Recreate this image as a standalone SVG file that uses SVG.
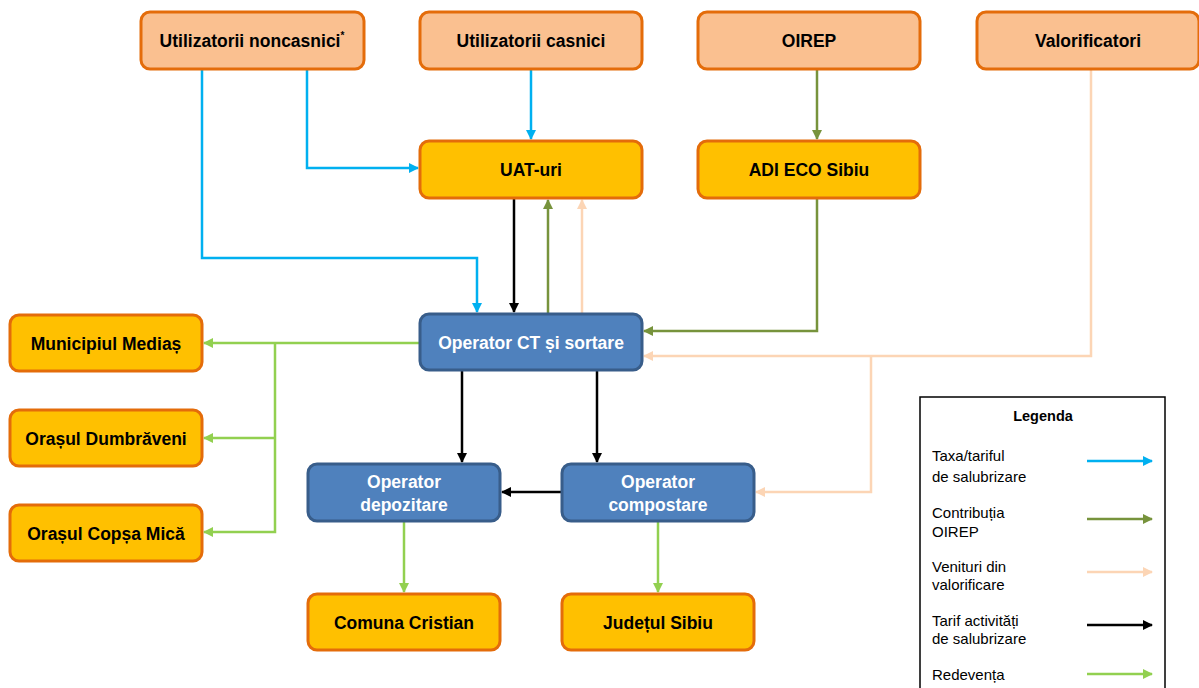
<svg xmlns="http://www.w3.org/2000/svg" width="1199" height="688" viewBox="0 0 1199 688">
<style>
.top{fill:#FAC090;stroke:#E46C0A;stroke-width:3}
.org{fill:#FFC000;stroke:#E46C0A;stroke-width:3}
.blu{fill:#4F81BD;stroke:#385D8A;stroke-width:3}
text{font-family:"Liberation Sans",Arial,sans-serif}
.t{font-size:17.5px;font-weight:bold;fill:#000;text-anchor:middle}
.tw{font-size:17.5px;font-weight:bold;fill:#fff;text-anchor:middle}
.lg{font-size:15px;fill:#000}
.c{fill:none;stroke-width:2.5}
.b{stroke:#00B0F0}.g{stroke:#77933C}.p{stroke:#FCD5B5}.k{stroke:#000}.l{stroke:#92D050}
</style>
<defs>
<marker id="mb" viewBox="0 0 10 10" refX="9" refY="5" markerWidth="4" markerHeight="4" orient="auto" markerUnits="strokeWidth"><path d="M0,0L10,5L0,10z" fill="#00B0F0"/></marker>
<marker id="mg" viewBox="0 0 10 10" refX="9" refY="5" markerWidth="4" markerHeight="4" orient="auto" markerUnits="strokeWidth"><path d="M0,0L10,5L0,10z" fill="#77933C"/></marker>
<marker id="mp" viewBox="0 0 10 10" refX="9" refY="5" markerWidth="4" markerHeight="4" orient="auto" markerUnits="strokeWidth"><path d="M0,0L10,5L0,10z" fill="#FCD5B5"/></marker>
<marker id="mk" viewBox="0 0 10 10" refX="9" refY="5" markerWidth="4" markerHeight="4" orient="auto" markerUnits="strokeWidth"><path d="M0,0L10,5L0,10z" fill="#000"/></marker>
<marker id="ml" viewBox="0 0 10 10" refX="9" refY="5" markerWidth="4" markerHeight="4" orient="auto" markerUnits="strokeWidth"><path d="M0,0L10,5L0,10z" fill="#92D050"/></marker>
</defs>
<rect width="1199" height="688" fill="#fff"/>
<g id="connectors">
<path class="c b" d="M202,69V258H477V312" marker-end="url(#mb)"/>
<path class="c b" d="M307,69V168H418" marker-end="url(#mb)"/>
<path class="c b" d="M531,69V139" marker-end="url(#mb)"/>
<path class="c g" d="M817,69V139" marker-end="url(#mg)"/>
<path class="c k" d="M514,198V312" marker-end="url(#mk)"/>
<path class="c g" d="M548,314V200" marker-end="url(#mg)"/>
<path class="c p" d="M582,314V200" marker-end="url(#mp)"/>
<path class="c g" d="M817,198V331H644" marker-end="url(#mg)"/>
<path class="c p" d="M1091,69V356H644" marker-end="url(#mp)"/>
<path class="c p" d="M871,356V492H756" marker-end="url(#mp)"/>
<path class="c k" d="M462,370V462" marker-end="url(#mk)"/>
<path class="c k" d="M597,370V462" marker-end="url(#mk)"/>
<path class="c k" d="M562,492H502" marker-end="url(#mk)"/>
<path class="c l" d="M420,343H204" marker-end="url(#ml)"/>
<path class="c l" d="M275,343V532H204" marker-end="url(#ml)"/>
<path class="c l" d="M275,438H204" marker-end="url(#ml)"/>
<path class="c l" d="M404,521V592" marker-end="url(#ml)"/>
<path class="c l" d="M658,521V592" marker-end="url(#ml)"/>
</g>
<g id="n-noncasnici"><rect class="top" x="141" y="12" width="223" height="57" rx="9"/><text class="t" x="252" y="47">Utilizatorii noncasnici<tspan font-size="10" dy="-8">*</tspan></text></g>
<g id="n-casnici"><rect class="top" x="420" y="12" width="222" height="57" rx="9"/><text class="t" x="531" y="47">Utilizatorii casnici</text></g>
<g id="n-oirep"><rect class="top" x="698" y="12" width="222" height="57" rx="9"/><text class="t" x="809" y="47">OIREP</text></g>
<g id="n-valorificatori"><rect class="top" x="977" y="12" width="222" height="57" rx="9"/><text class="t" x="1088" y="47">Valorificatori</text></g>
<g id="n-uat"><rect class="org" x="420" y="141" width="222" height="57" rx="9"/><text class="t" x="531" y="176">UAT-uri</text></g>
<g id="n-adi"><rect class="org" x="698" y="141" width="222" height="57" rx="9"/><text class="t" x="809" y="176">ADI ECO Sibiu</text></g>
<g id="n-ct"><rect class="blu" x="420" y="314" width="222" height="56" rx="9"/><text class="tw" x="531" y="349">Operator CT și sortare</text></g>
<g id="n-medias"><rect class="org" x="10" y="315" width="192" height="56" rx="9"/><text class="t" x="106" y="350">Municipiul  Mediaș</text></g>
<g id="n-dumbraveni"><rect class="org" x="10" y="410" width="192" height="56" rx="9"/><text class="t" x="106" y="445">Orașul Dumbrăveni</text></g>
<g id="n-copsa"><rect class="org" x="10" y="505" width="192" height="56" rx="9"/><text class="t" x="106" y="540">Orașul Copșa Mică</text></g>
<g id="n-depozitare"><rect class="blu" x="308" y="464" width="192" height="57" rx="9"/><text class="tw" x="404" y="488">Operator</text><text class="tw" x="404" y="511">depozitare</text></g>
<g id="n-compostare"><rect class="blu" x="562" y="464" width="192" height="57" rx="9"/><text class="tw" x="658" y="488">Operator</text><text class="tw" x="658" y="511">compostare</text></g>
<g id="n-cristian"><rect class="org" x="308" y="594" width="192" height="56" rx="9"/><text class="t" x="404" y="629">Comuna  Cristian</text></g>
<g id="n-sibiu"><rect class="org" x="562" y="594" width="192" height="56" rx="9"/><text class="t" x="658" y="629">Județul Sibiu</text></g>
<g id="legend">
<rect x="920" y="397" width="245" height="295" fill="#fff" stroke="#000" stroke-width="1.5"/>
<text x="1043" y="421" font-size="14.5" font-weight="bold" text-anchor="middle">Legenda</text>
<text class="lg" x="932" y="461">Taxa/tariful</text><text class="lg" x="932" y="482">de salubrizare</text>
<path class="c b" d="M1087,461H1152" marker-end="url(#mb)"/>
<text class="lg" x="932" y="518">Contribuția</text><text class="lg" x="932" y="537">OIREP</text>
<path class="c g" d="M1087,519H1152" marker-end="url(#mg)"/>
<text class="lg" x="932" y="572">Venituri din</text><text class="lg" x="932" y="590">valorificare</text>
<path class="c p" d="M1087,572H1152" marker-end="url(#mp)"/>
<text class="lg" x="932" y="626">Tarif activități</text><text class="lg" x="932" y="644">de salubrizare</text>
<path class="c k" d="M1087,625H1152" marker-end="url(#mk)"/>
<text class="lg" x="932" y="680">Redevența</text>
<path class="c l" d="M1087,674H1152" marker-end="url(#ml)"/>
</g>
</svg>
